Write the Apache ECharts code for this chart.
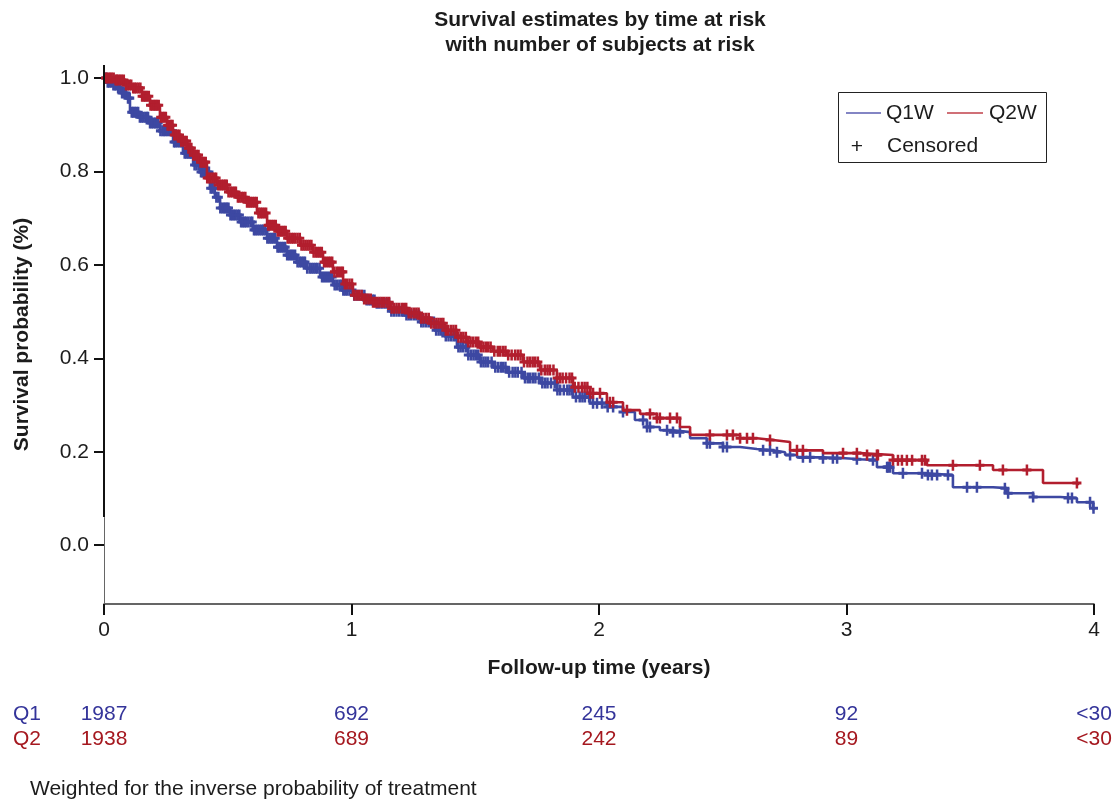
<!DOCTYPE html>
<html>
<head>
<meta charset="utf-8">
<script src="https://cdn.jsdelivr.net/npm/echarts@6/dist/echarts.min.js"></script>
<style>html,body{margin:0;padding:0;background:#fff;}#main{width:1114px;height:799px;}</style>
</head>
<body>
<div id="main"></div>
<script>
// ---- Data ----
const titleText = 'Survival estimates by time at risk\nwith number of subjects at risk';
const xTicks = [0, 1, 2, 3, 4];
const yTickValues = [0, 0.2, 0.4, 0.6, 0.8, 1.0];

const q1Time = [0.000,0.012,0.032,0.053,0.073,0.093,0.105,0.145,0.186,0.226,0.279,0.319,0.360,0.388,0.428,0.448,0.469,0.509,0.549,0.602,0.659,0.699,0.739,0.780,0.820,0.873,0.925,0.966,1.006,1.055,1.095,1.156,1.216,1.277,1.337,1.378,1.426,1.471,1.519,1.572,1.628,1.693,1.762,1.830,1.895,1.964,2.032,2.097,2.145,2.194,2.246,2.299,2.368,2.436,2.501,2.570,2.638,2.703,2.752,2.800,2.905,2.994,3.055,3.123,3.188,3.325,3.430,3.592,3.648,3.754,3.863,3.931,3.996,4.000];
const q1Surv = [1.000,0.991,0.985,0.979,0.968,0.957,0.927,0.916,0.904,0.887,0.863,0.839,0.814,0.799,0.764,0.745,0.722,0.707,0.692,0.675,0.657,0.638,0.621,0.606,0.593,0.574,0.557,0.546,0.535,0.525,0.518,0.501,0.493,0.478,0.460,0.448,0.424,0.407,0.392,0.381,0.370,0.358,0.347,0.332,0.317,0.304,0.296,0.285,0.268,0.253,0.246,0.242,0.229,0.218,0.210,0.206,0.203,0.199,0.193,0.188,0.186,0.184,0.182,0.167,0.154,0.150,0.124,0.122,0.111,0.103,0.101,0.092,0.079,0.075];

const q2Time = [0.000,0.044,0.085,0.117,0.154,0.186,0.226,0.255,0.279,0.307,0.335,0.360,0.388,0.416,0.457,0.497,0.537,0.578,0.618,0.659,0.699,0.739,0.792,0.844,0.885,0.925,0.966,1.006,1.046,1.087,1.156,1.224,1.277,1.317,1.378,1.426,1.471,1.519,1.572,1.628,1.693,1.762,1.830,1.895,1.964,2.032,2.097,2.166,2.234,2.327,2.368,2.570,2.638,2.703,2.772,2.905,3.055,3.188,3.325,3.592,3.794,3.935];
const q2Surv = [1.000,0.996,0.985,0.979,0.961,0.942,0.916,0.899,0.878,0.865,0.850,0.835,0.820,0.786,0.771,0.756,0.745,0.734,0.711,0.685,0.672,0.657,0.642,0.627,0.606,0.585,0.559,0.535,0.527,0.520,0.507,0.497,0.486,0.475,0.460,0.445,0.435,0.424,0.415,0.407,0.392,0.375,0.358,0.338,0.325,0.306,0.289,0.281,0.272,0.253,0.236,0.229,0.225,0.221,0.203,0.197,0.193,0.182,0.171,0.161,0.133,0.128];

const q1Censor = [0.008,0.015,0.022,0.030,0.038,0.044,0.049,0.057,0.066,0.073,0.081,0.089,0.097,0.104,0.112,0.118,0.124,0.131,0.138,0.145,0.152,0.159,0.167,0.173,0.178,0.186,0.193,0.200,0.207,0.213,0.219,0.228,0.236,0.242,0.248,0.255,0.262,0.270,0.277,0.283,0.288,0.296,0.304,0.311,0.318,0.326,0.333,0.340,0.347,0.352,0.358,0.366,0.374,0.383,0.392,0.398,0.403,0.410,0.417,0.424,0.431,0.438,0.446,0.454,0.462,0.470,0.478,0.485,0.491,0.497,0.503,0.511,0.518,0.525,0.532,0.540,0.547,0.554,0.561,0.568,0.574,0.583,0.592,0.599,0.606,0.613,0.621,0.629,0.637,0.644,0.652,0.660,0.668,0.676,0.683,0.692,0.701,0.708,0.716,0.724,0.732,0.740,0.748,0.756,0.763,0.772,0.782,0.790,0.797,0.805,0.812,0.821,0.831,0.839,0.847,0.855,0.862,0.871,0.881,0.889,0.897,0.905,0.913,0.922,0.932,0.941,0.951,0.959,0.967,0.975,0.983,0.992,1.002,1.011,1.021,1.031,1.042,1.052,1.061,1.070,1.078,1.086,1.093,1.102,1.112,1.122,1.133,1.142,1.152,1.161,1.171,1.182,1.193,1.203,1.212,1.222,1.231,1.241,1.252,1.262,1.273,1.282,1.291,1.302,1.312,1.322,1.333,1.342,1.352,1.362,1.371,1.381,1.392,1.403,1.413,1.422,1.432,1.441,1.451,1.462,1.472,1.483,1.493,1.502,1.512,1.523,1.533,1.542,1.552,1.566,1.581,1.592,1.603,1.612,1.622,1.637,1.651,1.662,1.672,1.687,1.701,1.712,1.722,1.733,1.743,1.757,1.771,1.782,1.792,1.806,1.821,1.832,1.843,1.858,1.872,1.881,1.891,1.907,1.922,1.933,1.943,1.960,1.976,1.992,2.012,2.035,2.057,2.097,2.178,2.194,2.206,2.275,2.299,2.327,2.436,2.448,2.501,2.517,2.663,2.691,2.719,2.772,2.824,2.853,2.905,2.945,2.962,3.042,3.107,3.164,3.168,3.176,3.228,3.305,3.329,3.345,3.366,3.410,3.487,3.527,3.640,3.653,3.754,3.895,3.911,3.984,3.998];
const q2Censor = [0.006,0.012,0.018,0.025,0.031,0.039,0.047,0.052,0.058,0.065,0.072,0.080,0.089,0.096,0.103,0.110,0.118,0.124,0.131,0.139,0.147,0.154,0.161,0.167,0.173,0.181,0.188,0.195,0.202,0.208,0.214,0.221,0.229,0.236,0.243,0.250,0.257,0.264,0.271,0.277,0.284,0.291,0.298,0.305,0.312,0.320,0.327,0.334,0.341,0.347,0.353,0.361,0.368,0.375,0.382,0.390,0.397,0.404,0.411,0.417,0.424,0.431,0.439,0.446,0.453,0.461,0.468,0.476,0.483,0.490,0.496,0.503,0.511,0.518,0.526,0.533,0.541,0.548,0.556,0.563,0.571,0.578,0.586,0.593,0.601,0.609,0.617,0.624,0.632,0.639,0.647,0.655,0.663,0.670,0.678,0.686,0.694,0.702,0.711,0.719,0.727,0.734,0.742,0.750,0.758,0.765,0.773,0.782,0.791,0.798,0.806,0.814,0.822,0.830,0.838,0.847,0.856,0.864,0.872,0.880,0.889,0.897,0.906,0.914,0.922,0.931,0.941,0.949,0.958,0.965,0.973,0.982,0.992,1.002,1.012,1.021,1.031,1.041,1.051,1.060,1.069,1.078,1.087,1.095,1.104,1.113,1.122,1.132,1.142,1.152,1.162,1.172,1.182,1.192,1.203,1.212,1.221,1.231,1.242,1.252,1.262,1.271,1.281,1.291,1.302,1.312,1.322,1.332,1.343,1.352,1.362,1.371,1.381,1.391,1.402,1.412,1.422,1.432,1.443,1.452,1.462,1.471,1.481,1.491,1.502,1.512,1.523,1.533,1.543,1.552,1.562,1.577,1.591,1.601,1.612,1.622,1.633,1.647,1.661,1.672,1.683,1.697,1.711,1.721,1.732,1.742,1.753,1.767,1.781,1.792,1.802,1.816,1.831,1.842,1.853,1.867,1.881,1.891,1.902,1.917,1.931,1.942,1.953,1.965,1.976,2.004,2.044,2.057,2.113,2.206,2.234,2.246,2.287,2.315,2.448,2.517,2.541,2.570,2.598,2.622,2.691,2.800,2.824,2.986,3.042,3.083,3.123,3.127,3.188,3.208,3.224,3.244,3.265,3.305,3.317,3.430,3.539,3.632,3.729,3.931];

const riskTimes = [0, 1, 2, 3, 4];
const q1Risk = ['1987', '692', '245', '92', '<30'];
const q2Risk = ['1938', '689', '242', '89', '<30'];
const riskRows = ['Q2', 'Q1'];
const footnote = 'Weighted for the inverse probability of treatment';

// ---- Styles ----
const BLUE = '#3d48a2';
const RED = '#b21e2e';
const BLUE_T = '#34349a';
const RED_T = '#a5181f';
const FONT = '"Liberation Sans", Arial, Helvetica, sans-serif';
const TXT = '#1c1c1c';
const FS = 21;

function pairs(t, s) { return t.map((v, i) => [v, s[i]]); }
function stepAt(t, s, x) {
  let v = s[0];
  for (let i = 0; i < t.length; i++) { if (t[i] <= x) v = s[i]; else break; }
  return v;
}
function censorPts(times, t, s) { return times.map(x => [x, stepAt(t, s, x)]); }

const plusPath = 'path://M3.6,0 L6.4,0 L6.4,3.6 L10,3.6 L10,6.4 L6.4,6.4 L6.4,10 L3.6,10 L3.6,6.4 L0,6.4 L0,3.6 L3.6,3.6 Z';

const chart = echarts.init(document.getElementById('main'), null, { renderer: 'canvas' });
const option = {
  animation: false,
  backgroundColor: '#fff',
  textStyle: { fontFamily: FONT },
  grid: [
    { left: 104, right: 20, top: 65, bottom: 195, outerBoundsMode: 'none', containLabel: false },
    { left: 104, right: 20, top: 701.5, height: 50, outerBoundsMode: 'none', containLabel: false }
  ],
  xAxis: [
    {
      gridIndex: 0, type: 'value', min: 0, max: 4, interval: 1,
      name: 'Follow-up time (years)', nameLocation: 'middle', nameGap: 54,
      nameTextStyle: { fontFamily: FONT, fontSize: FS, fontWeight: 'bold', color: TXT },
      axisLine: { show: true, onZero: false, lineStyle: { color: '#333', width: 1.5 } },
      axisTick: { show: true, length: 11, lineStyle: { color: '#111', width: 2 } },
      axisLabel: { fontFamily: FONT, fontSize: FS, color: TXT, margin: 16 },
      splitLine: { show: false }
    },
    {
      gridIndex: 1, type: 'value', min: 0, max: 4, show: false
    }
  ],
  yAxis: [
    {
      gridIndex: 0, type: 'value', min: -0.126, max: 1.028,
      name: 'Survival probability (%)', nameLocation: 'middle', nameGap: 71, nameRotate: 90,
      nameTextStyle: { fontFamily: FONT, fontSize: FS, fontWeight: 'bold', color: TXT },
      axisLine: { show: false },
      axisTick: { show: true, length: 10, customValues: yTickValues, lineStyle: { color: '#111', width: 2 } },
      axisLabel: { fontFamily: FONT, fontSize: FS, color: TXT, margin: 15, customValues: yTickValues,
        formatter: v => v.toFixed(1) },
      splitLine: { show: false }
    },
    {
      gridIndex: 1, type: 'category', data: riskRows,
      axisLine: { show: false }, axisTick: { show: false }, splitLine: { show: false },
      axisLabel: { show: true, interval: 0, hideOverlap: false, align: 'left', margin: 91, fontFamily: FONT, fontSize: FS,
        color: (v) => v === 'Q1' ? BLUE_T : RED_T }
    }
  ],
  series: [
    {
      name: 'Q1W', type: 'line', xAxisIndex: 0, yAxisIndex: 0, step: 'end',
      data: pairs(q1Time, q1Surv), showSymbol: false, symbol: 'none',
      lineStyle: { color: BLUE, width: 2.6 }, z: 3,
      markLine: {
        silent: true, symbol: 'none', label: { show: false }, animation: false,
        data: [
          [{ coord: [0, -0.126], lineStyle: { color: '#666', width: 1, type: 'solid' } }, { coord: [0, 0.06] }],
          [{ coord: [0, 0.06], lineStyle: { color: '#111', width: 2, type: 'solid' } }, { coord: [0, 1.028] }]
        ]
      }
    },
    {
      name: 'Q1W censored', type: 'scatter', xAxisIndex: 0, yAxisIndex: 0,
      data: censorPts(q1Censor, q1Time, q1Surv), symbol: plusPath, symbolSize: [9, 11],
      itemStyle: { color: BLUE, opacity: 1 }, z: 3
    },
    {
      name: 'Q2W', type: 'line', xAxisIndex: 0, yAxisIndex: 0, step: 'end',
      data: pairs(q2Time, q2Surv), showSymbol: false, symbol: 'none',
      lineStyle: { color: RED, width: 2.6 }, z: 4
    },
    {
      name: 'Q2W censored', type: 'scatter', xAxisIndex: 0, yAxisIndex: 0,
      data: censorPts(q2Censor, q2Time, q2Surv), symbol: plusPath, symbolSize: [9, 11],
      itemStyle: { color: RED, opacity: 1 }, z: 4
    },
    {
      name: 'Q1 at risk', type: 'scatter', xAxisIndex: 1, yAxisIndex: 1,
      data: riskTimes.map((t, i) => [t, 'Q1', q1Risk[i]]), symbolSize: 0,
      itemStyle: { opacity: 1 },
      label: { show: true, opacity: 1, position: 'inside', formatter: p => p.value[2], fontFamily: FONT, fontSize: FS, color: BLUE_T }
    },
    {
      name: 'Q2 at risk', type: 'scatter', xAxisIndex: 1, yAxisIndex: 1,
      data: riskTimes.map((t, i) => [t, 'Q2', q2Risk[i]]), symbolSize: 0,
      itemStyle: { opacity: 1 },
      label: { show: true, opacity: 1, position: 'inside', formatter: p => p.value[2], fontFamily: FONT, fontSize: FS, color: RED_T }
    }
  ],
  graphic: [
    { type: 'text', x: 600, y: 8, style: { text: titleText, textAlign: 'center', font: 'bold ' + FS + 'px ' + FONT, fill: TXT, lineHeight: 25 } },
    { type: 'rect', shape: { x: 838.5, y: 92.5, width: 208, height: 70 }, style: { fill: '#fff', stroke: '#222', lineWidth: 1 }, z: 10 },
    { type: 'line', shape: { x1: 846, y1: 113, x2: 881, y2: 113 }, style: { stroke: '#5a5cb0', lineWidth: 1.5 }, z: 11 },
    { type: 'text', x: 886, y: 113, style: { text: 'Q1W', font: FS + 'px ' + FONT, fill: TXT, textVerticalAlign: 'middle' }, z: 11 },
    { type: 'line', shape: { x1: 947, y1: 113, x2: 983, y2: 113 }, style: { stroke: '#c0404a', lineWidth: 1.5 }, z: 11 },
    { type: 'text', x: 989, y: 113, style: { text: 'Q2W', font: FS + 'px ' + FONT, fill: TXT, textVerticalAlign: 'middle' }, z: 11 },
    { type: 'text', x: 857, y: 147, style: { text: '+', font: FS + 'px ' + FONT, fill: TXT, textAlign: 'center', textVerticalAlign: 'middle' }, z: 11 },
    { type: 'text', x: 887, y: 146, style: { text: 'Censored', font: FS + 'px ' + FONT, fill: TXT, textVerticalAlign: 'middle' }, z: 11 },
    { type: 'text', x: 30, y: 789, style: { text: footnote, font: FS + 'px ' + FONT, fill: TXT, textVerticalAlign: 'middle' } }
  ]
};
chart.setOption(option);
</script>
</body>
</html>
